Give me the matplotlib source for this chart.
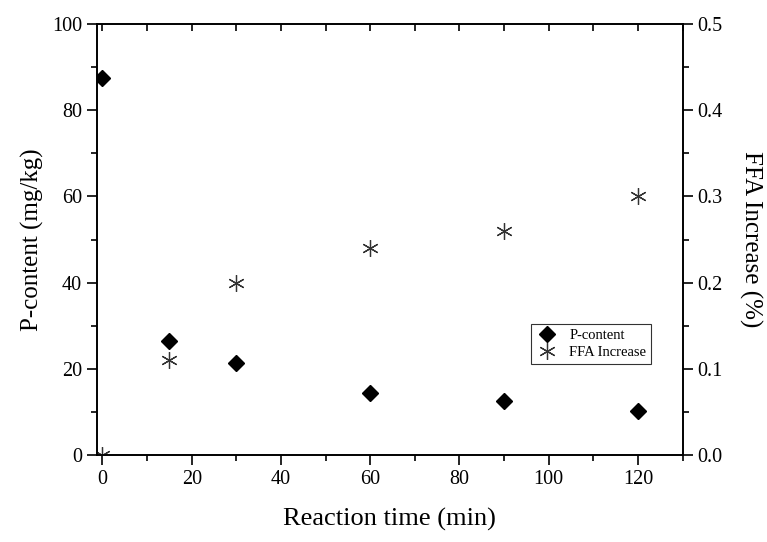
import matplotlib
matplotlib.use("Agg")
import matplotlib.pyplot as plt
from matplotlib.ticker import MultipleLocator

plt.rcParams['font.family'] = ['Liberation Serif', 'DejaVu Serif']

time_min = [0, 15, 30, 60, 90, 120]
p_content = [87.5, 26.5, 21.5, 14.5, 12.5, 10.3]
ffa_increase = [0.0, 0.11, 0.20, 0.24, 0.26, 0.30]

fig = plt.figure(figsize=(7.67, 5.42), dpi=100)
ax = fig.add_axes([0.126, 0.160, 0.764, 0.796])
ax2 = ax.twinx()

h1, = ax.plot(time_min, p_content, linestyle='none', marker='D', markersize=8,
              color='black', label='P-content')
h2, = ax2.plot(time_min, ffa_increase, linestyle='none', marker=(6, 2, 0), markersize=12,
               markeredgewidth=0.9, color='#333333', label='FFA Increase')

ax.set_xlim(-1.3, 130)
ax.set_ylim(0, 100)
ax2.set_ylim(0, 0.5)

ax.xaxis.set_major_locator(MultipleLocator(20))
ax.xaxis.set_minor_locator(MultipleLocator(10))
ax.yaxis.set_major_locator(MultipleLocator(20))
ax.yaxis.set_minor_locator(MultipleLocator(10))
ax2.yaxis.set_major_locator(MultipleLocator(0.1))
ax2.yaxis.set_minor_locator(MultipleLocator(0.05))
ax2.yaxis.set_major_formatter(matplotlib.ticker.FormatStrFormatter('%.1f'))

ax.tick_params(axis='x', which='both', direction='out', top=True, labeltop=False,
               labelsize=14.5, width=1.2)
ax.tick_params(axis='x', which='major', length=7)
ax.tick_params(axis='x', which='minor', length=4)
ax.tick_params(axis='y', which='both', direction='out', labelsize=14.5, width=1.2)
ax.tick_params(axis='y', which='major', length=7)
ax.tick_params(axis='y', which='minor', length=4)
ax2.tick_params(axis='y', which='both', direction='out', labelsize=14.5, width=1.2)
ax2.tick_params(axis='y', which='major', length=7)
ax2.tick_params(axis='y', which='minor', length=4)

# top ticks inward
for t in ax.xaxis.get_major_ticks() + ax.xaxis.get_minor_ticks():
    t.tick2line.set_marker(matplotlib.lines.TICKDOWN)
    t.tick2line.set_markersize(5)

for a in (ax, ax2):
    for s in a.spines.values():
        s.set_linewidth(1.2)

ax.set_xlabel('Reaction time (min)', fontsize=19, labelpad=14)
ax.set_ylabel('P-content (mg/kg)', fontsize=18, labelpad=6)
ax2.set_ylabel('FFA Increase (%)', fontsize=18, labelpad=12, rotation=270, va='bottom')

leg = ax.legend(handles=[h1, h2], loc='upper left', bbox_to_anchor=(0.742, 0.304),
                fontsize=10.5, frameon=True, fancybox=False, edgecolor='black',
                borderpad=0.3, labelspacing=0.3, handletextpad=0.8, handlelength=1.5,
                borderaxespad=0)
leg.get_frame().set_linewidth(0.8)

fig.savefig('out.png', dpi=100)
